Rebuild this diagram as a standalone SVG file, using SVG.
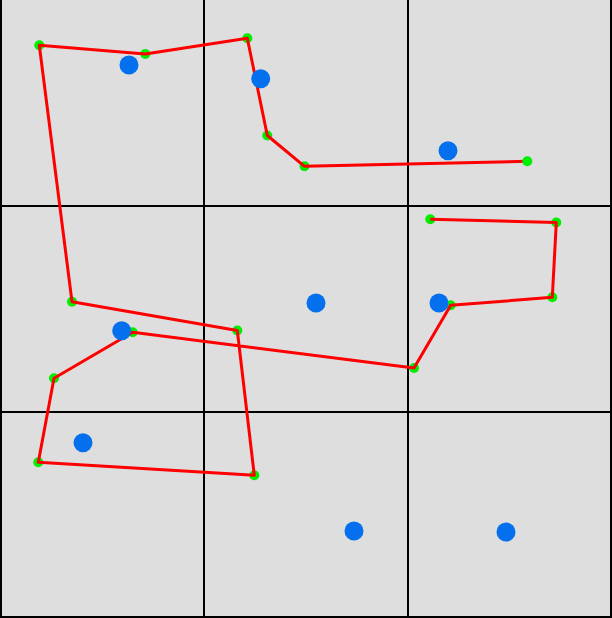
<svg xmlns="http://www.w3.org/2000/svg" width="612" height="618" viewBox="0 0 612 618">
<style>
.grid{stroke:#000;stroke-width:2;fill:none}
.path{stroke:#ff0000;stroke-width:3;fill:none;stroke-linejoin:round}
.pt{fill:#00ee00}
.blue{fill:#0570ee}
</style>
<rect width="612" height="618" fill="#dedede"/>
<g id="grid">
<line class="grid" x1="1" y1="0" x2="1" y2="618"/>
<line class="grid" x1="204" y1="0" x2="204" y2="618"/>
<line class="grid" x1="408" y1="0" x2="408" y2="618"/>
<line class="grid" x1="611" y1="0" x2="611" y2="618"/>
<line class="grid" x1="0" y1="206" x2="612" y2="206"/>
<line class="grid" x1="0" y1="412" x2="612" y2="412"/>
<line class="grid" x1="0" y1="617" x2="612" y2="617"/>
</g>
<g id="waypoints">
<circle class="pt" cx="304.5" cy="166.3" r="5"/>
<circle class="pt" cx="267.3" cy="135.5" r="5"/>
<circle class="pt" cx="247.3" cy="38.3" r="5"/>
<circle class="pt" cx="145.3" cy="54" r="5"/>
<circle class="pt" cx="39.3" cy="45.3" r="5"/>
<circle class="pt" cx="72" cy="301.7" r="5"/>
<circle class="pt" cx="237.3" cy="330.5" r="5"/>
<circle class="pt" cx="254.3" cy="475.3" r="5"/>
<circle class="pt" cx="38.3" cy="462.3" r="5"/>
<circle class="pt" cx="54" cy="378.3" r="5"/>
<circle class="pt" cx="132.7" cy="332.3" r="5"/>
<circle class="pt" cx="414" cy="368" r="5"/>
<circle class="pt" cx="450.7" cy="305.3" r="5"/>
<circle class="pt" cx="552.3" cy="297.3" r="5"/>
<circle class="pt" cx="556.3" cy="222.5" r="5"/>
<circle class="pt" cx="430.3" cy="219.3" r="5"/>
</g>
<g id="connectors">
<polyline class="path" points="527.3,161.3 304.5,166.3 267.3,135.5 247.3,38.3 145.3,54 39.3,45.3 72,301.7 237.3,330.5 254.3,475.3 38.3,462.3 54,378.3 132.7,332.3 414,368 450.7,305.3 552.3,297.3 556.3,222.5 430.3,219.3"/>
</g>
<g id="end-point">
<circle class="pt" cx="527.3" cy="161.3" r="5"/>
</g>
<g id="targets">
<circle class="blue" cx="129" cy="65" r="9.5"/>
<circle class="blue" cx="260.7" cy="78.7" r="9.5"/>
<circle class="blue" cx="448" cy="150.7" r="9.5"/>
<circle class="blue" cx="316" cy="303" r="9.5"/>
<circle class="blue" cx="439" cy="303" r="9.5"/>
<circle class="blue" cx="121.7" cy="330.7" r="9.5"/>
<circle class="blue" cx="83" cy="442.7" r="9.5"/>
<circle class="blue" cx="354" cy="531" r="9.5"/>
<circle class="blue" cx="506" cy="532" r="9.5"/>
</g>
</svg>
